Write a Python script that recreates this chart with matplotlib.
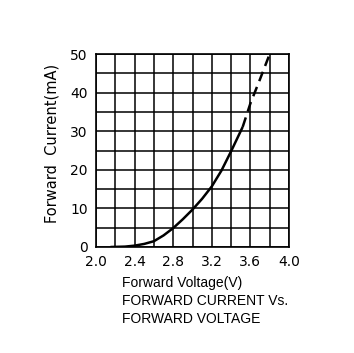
import numpy as np
import matplotlib.pyplot as plt

# forward curve
v_solid = [2.15, 2.3, 2.4, 2.5, 2.6, 2.7, 2.8, 2.9, 3.0, 3.1, 3.2, 3.3, 3.4, 3.52]
i_solid = [0.0, 0.1, 0.35, 0.8, 1.5, 3.0, 4.9, 7.2, 9.7, 12.5, 15.7, 19.8, 24.8, 31.1]
v_dash = [3.52, 3.6, 3.7, 3.8]
i_dash = [31.1, 37.2, 43.5, 50.0]

xticks = [2.0, 2.4, 2.8, 3.2, 3.6, 4.0]
xticklabels = ['2.0', '2.4', '2.8', '3.2', '3.6', '4.0']
yticks = [0, 10, 20, 30, 40, 50]

fig = plt.figure(figsize=(3.54, 3.53), dpi=100)
ax = fig.add_axes([96/354, 1 - 247/353, 193/354, 193/353])

ax.plot(v_solid, i_solid, color='black', linewidth=1.8, solid_capstyle='butt')
ax.plot(v_dash, i_dash, color='black', linewidth=1.8, linestyle=(0, (4, 2.5)))

ax.set_xlim(2.0, 4.0)
ax.set_ylim(0, 50)
ax.set_xticks(np.arange(2.0, 4.01, 0.2), minor=True)
ax.set_yticks(np.arange(0, 51, 5), minor=True)
ax.set_xticks(xticks)
ax.set_xticklabels(xticklabels)
ax.set_yticks(yticks)
ax.grid(True, which='both', color='black', linewidth=1.1)
ax.tick_params(which='both', length=0)
ax.tick_params(axis='x', pad=6, labelsize=10)
ax.tick_params(axis='y', pad=6, labelsize=10)
for s in ax.spines.values():
    s.set_linewidth(1.2)

ax.set_ylabel('Forward  Current(mA)', fontsize=10.5)
ax.yaxis.set_label_coords(-0.19, 0.535)

txt = dict(fontsize=10, va='center', ha='left', family='Liberation Sans')
fig.text(122/354, 1 - 283/353, 'Forward Voltage(V)', **txt)
fig.text(122/354, 1 - 301/353, 'FORWARD CURRENT Vs.', **txt)
fig.text(122/354, 1 - 319/353, 'FORWARD VOLTAGE', **txt)

fig.savefig('out.png', dpi=100)
